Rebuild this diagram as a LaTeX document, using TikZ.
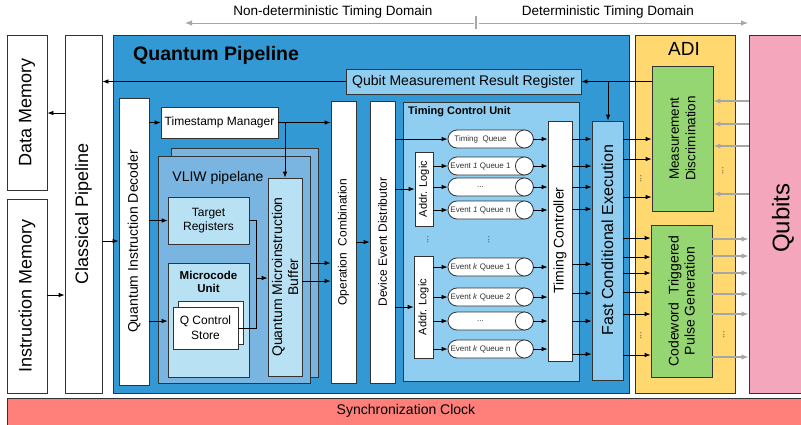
\documentclass[tikz,border=0pt]{standalone}
\usepackage{fontspec}
\setmainfont{Liberation Sans}
\usetikzlibrary{arrows.meta}

\definecolor{qpblue}{RGB}{51,153,212}
\definecolor{vliwblue}{RGB}{122,180,224}
\definecolor{tcublue}{RGB}{143,206,240}
\definecolor{paleblue}{RGB}{185,225,244}
\definecolor{adiyellow}{RGB}{255,217,112}
\definecolor{mdgreen}{RGB}{150,214,114}
\definecolor{qpink}{RGB}{244,167,188}
\definecolor{clksalmon}{RGB}{255,127,122}
\definecolor{edge}{RGB}{51,51,51}
\definecolor{lgray}{RGB}{166,166,166}

% box given by its corners: [style]{name}{x1}{y1}{x2}{y2}{text}
\newcommand{\bx}[7][]{\node[blk,#1,minimum width={(#5)-(#3)},minimum height={(#6)-(#4)}] (#2) at ({((#3)+(#5))/2},{((#4)+(#6))/2}) {#7};}

\tikzset{
  blk/.style={draw=edge, line width=0.8pt, inner sep=0pt, align=center, fill=white},
  arr/.style={-{Latex[length=6pt,width=4.6pt]}, line width=0.8pt, black},
  garr/.style={-{Latex[length=7pt,width=5.5pt]}, line width=1.4pt, lgray},
  ln/.style={line width=0.8pt, black},
  rot/.style={rotate=90, align=center, inner sep=0pt},
  lbl/.style={align=center, inner sep=0pt},
  queue/.style={draw=edge, line width=0.8pt, fill=white, rounded corners=9pt,
    minimum width=85pt, minimum height=18pt, inner sep=0pt},
  qcap/.style={draw=edge, line width=0.8pt, fill=white},
  qtext/.style={inner sep=0pt, font=\fontsize{8}{9}\selectfont, text=edge},
  vdots/.style={rotate=90, inner sep=0pt, font=\fontsize{9}{10}\selectfont, text=edge},
  f11/.style={font=\fontsize{11}{13}\selectfont},
  f12/.style={font=\fontsize{12}{14}\selectfont},
  f13/.style={font=\fontsize{13.5}{16.5}\selectfont},
  f14/.style={font=\fontsize{14}{16}\selectfont},
  f16/.style={font=\fontsize{16}{19}\selectfont},
  f18/.style={font=\fontsize{18}{21}\selectfont},
}

\begin{document}
\begin{tikzpicture}[x=1pt, y=-1pt]
\useasboundingbox (0,0) rectangle (801,424);
\fill[white] (0,0) rectangle (801,424);

% timing domains
\node[lbl, f13] (ndt) at (333,12) {Non-deterministic Timing Domain};
\node[lbl, f13] (dtd) at (608,12) {Deterministic Timing Domain};
\coordinate (dsep) at (476,23);
\coordinate (dleft) at (185,23);
\coordinate (dright) at (748,23);
\coordinate (tickA) at (476,16);
\coordinate (tickB) at (476,29);
\draw[garr, line width=1pt] ([xshift=-2pt]dsep) -- (dleft);
\draw[garr, line width=1pt] ([xshift=3pt]dsep) -- (dright);
\draw[lgray, line width=1.2pt] (tickA) -- (tickB);

% memories and classical pipeline
\bx{dm}{7}{35}{47}{190}{}
\node[rot, f18] (dm-t) at (dm.center) {Data Memory};
\bx{im}{7}{199}{47}{393}{}
\node[rot, f18] (im-t) at (im.center) {Instruction Memory};
\bx{cp}{65}{35}{102}{393}{}
\node[rot, f18] (cp-t) at (cp.center) {Classical Pipeline};

% synchronization clock
\bx[fill=clksalmon]{clk}{7}{398}{810}{432}{}
\node[lbl, f14] (clk-t) at (406,411) {Synchronization Clock};

% quantum pipeline
\bx[fill=qpblue]{qp}{113}{35}{629}{393}{}
\node[lbl, anchor=west, font=\fontsize{19.5}{22}\selectfont\bfseries] (qp-t) at (133,55) {Quantum Pipeline};

% ADI and qubits
\bx[fill=adiyellow]{adi}{635}{35}{735}{393}{}
\node[lbl, font=\fontsize{19}{22}\selectfont] (adi-t) at (684,49) {ADI};
\bx[fill=qpink]{qb}{749}{35}{810}{393}{}
\node[rot, font=\fontsize{24}{28}\selectfont] (qb-t) at (783,218) {Qubits};

% quantum pipeline contents
\bx[fill=tcublue, f14]{qmrr}{346}{69}{581}{94}{Qubit Measurement Result Register}
\bx{dec}{119}{98}{149}{385}{}
\node[rot, f14] (dec-t) at (134,241.5) {Quantum Instruction Decoder};
\bx[f12]{tsm}{161}{107}{278}{138}{Timestamp Manager}

% VLIW pipeline
\bx[fill=vliwblue]{vliwb}{171}{148}{318}{377}{}
\bx[fill=vliwblue]{vliwf}{158}{156}{310}{383}{}
\node[lbl, f14] (vliw-t) at (218,178) {VLIW pipelane};
\bx[fill=paleblue, f12]{tr}{168}{197}{249}{244}{Target\\Registers}
\bx[fill=paleblue]{mu}{168}{263}{249}{377}{}
\node[lbl, font=\fontsize{11.5}{13}\selectfont\bfseries] (mu-t) at (208.5,281.5) {Microcode\\Unit};
\bx{qcsb}{178}{301}{243}{344}{}
\bx[font=\fontsize{12}{15}\selectfont]{qcs}{173}{307}{238}{349}{Q Control\\Store}
\bx[fill=paleblue]{buf}{268}{178}{302}{376}{}
\node[rot, font=\fontsize{14}{16}\selectfont] (buf-t) at (buf.center) {Quantum Microinstruction\\Buffer};

\bx{opc}{331}{101}{356}{383}{}
\node[rot, f12] (opc-t) at (opc.center) {Operation~ Combination};
\bx{ded}{370}{101}{395}{383}{}
\node[rot, f12] (ded-t) at (ded.center) {Device Event Distributor};

% timing control unit
\bx[fill=tcublue]{tcu}{403}{102}{579}{381}{}
\node[lbl, anchor=west, font=\fontsize{11}{13}\selectfont\bfseries] (tcu-t) at (408,112) {Timing Control Unit};
\bx{al1}{415}{152}{433}{226}{}
\node[rot, f11] (al1-t) at (al1.center) {Addr. Logic};
\bx{al2}{414}{256}{433}{358}{}
\node[rot, f11] (al2-t) at (al2.center) {Addr. Logic};

% queues
\foreach \qn/\qy/\qt in {tq/139/{Timing~ Queue},
                         ea1/166/{Event \textit{1} Queue 1},
                         ea2/187/{...},
                         ea3/210/{Event \textit{1} Queue n},
                         eb1/267/{Event \textit{k} Queue 1},
                         eb2/297/{Event \textit{k} Queue 2},
                         eb3/321/{...},
                         eb4/349/{Event \textit{k} Queue n}} {
  \node[queue] (\qn) at (490.5,\qy) {};
  \draw[qcap] ([xshift=-9pt]\qn.east) circle (9pt);
  \node[qtext] (\qn-t) at ([xshift=-10pt]\qn.center) {\qt};
}
\node[vdots] (tdots1) at (428,240) {...};
\node[vdots] (tdots2) at (489,240) {...};

\bx{tc}{548}{121}{572}{361}{}
\node[rot, f14] (tc-t) at (560,240.5) {Timing Controller};
\bx[fill=tcublue]{fce}{592}{121}{623}{380}{}
\node[rot, f16] (fce-t) at (607.5,240) {Fast Conditional Execution};

% ADI contents
\bx[fill=mdgreen]{md}{652}{66}{713}{211}{}
\node[rot, font=\fontsize{13.5}{16.5}\selectfont] (md-t) at (md.center) {Measurement\\Discrimination};
\bx[fill=mdgreen]{ctpg}{651}{225}{712}{377}{}
\node[rot, font=\fontsize{14}{16}\selectfont] (ctpg-t) at (ctpg.center) {Codeword~ Triggered\\Pulse Generation};
\node[vdots] (adots1) at (641,179) {...};
\node[vdots] (adots2) at (641,336) {...};
\node[vdots] (adots3) at (723,171) {...};
\node[vdots] (adots4) at (724,335) {...};

% classical side connections
\draw[arr] (cp.west |- 0,113) -- (dm.east |- 0,113);
\draw[arr] (im.east |- 0,295) -- (cp.west |- 0,295);
\draw[arr] (cp.east |- 0,241) -- (dec.west |- 0,241);
\draw[arr] (qmrr.west) -- (qmrr.west -| cp.east);

% decoder, timestamps and VLIW lane
\draw[arr] (dec.east |- tsm.west) -- (tsm.west);
\draw[arr] (tsm.east) -- (tsm.east -| opc.west);
\coordinate (tsj) at (285,122.5);
\draw[arr] (tsj) -- (tsj |- buf.north);
\draw[arr] (dec.east |- tr.west) -- (tr.west);
\draw[arr] (dec.east |- 0,321) -- (mu.west |- 0,321);
\coordinate (mj) at (256,278);
\draw[ln] (tr.east) -| (mj);
\draw[ln] (qcs.east) -| (mj);
\draw[arr] (mj) -- (mj -| buf.west);
\draw[arr] (vliwf.east |- 0,263) -- (opc.west |- 0,263);
\draw[arr] (buf.east |- 0,281) -- (opc.west |- 0,281);
\draw[arr] (opc.east |- 0,242) -- (ded.west |- 0,242);

% event distribution
\draw[arr] (ded.east |- tq.west) -- (tq.west);
\draw[arr] (ded.east |- al1.west) -- (al1.west);
\draw[arr] (ded.east |- al2.west) -- (al2.west);
\foreach \qn in {ea1,ea2,ea3} \draw[arr] (al1.east |- \qn.west) -- (\qn.west);
\foreach \qn in {eb1,eb2,eb3,eb4} \draw[arr] (al2.east |- \qn.west) -- (\qn.west);
\foreach \qn in {tq,ea1,ea2,ea3,eb1,eb2,eb3,eb4} \draw[arr] (\qn.east) -- (\qn.east -| tc.west);
\foreach \yy in {139,166,187,209,264,293,321,354}
  \draw[arr] (tc.east |- 0,\yy) -- (fce.west |- 0,\yy);

% measurement feedback
\draw[arr] (md.west |- qmrr.east) -- (qmrr.east);
\coordinate (fj) at (608,81.5);
\draw[arr] (fj) -- (fj |- fce.north);

% to and from the ADI
\foreach \yy in {139,159,197}
  \draw[arr] (fce.east |- 0,\yy) -- (md.west |- 0,\yy);
\foreach \yy in {238,257,273,292,314,355}
  \draw[arr] (fce.east |- 0,\yy) -- (ctpg.west |- 0,\yy);
\foreach \yy in {101,124,146,194}
  \draw[garr] (qb.west |- 0,\yy) -- (md.east |- 0,\yy);
\foreach \yy in {239,256,273,294,314,357}
  \draw[garr] (ctpg.east |- 0,\yy) -- (qb.west |- 0,\yy);
\end{tikzpicture}
\end{document}
